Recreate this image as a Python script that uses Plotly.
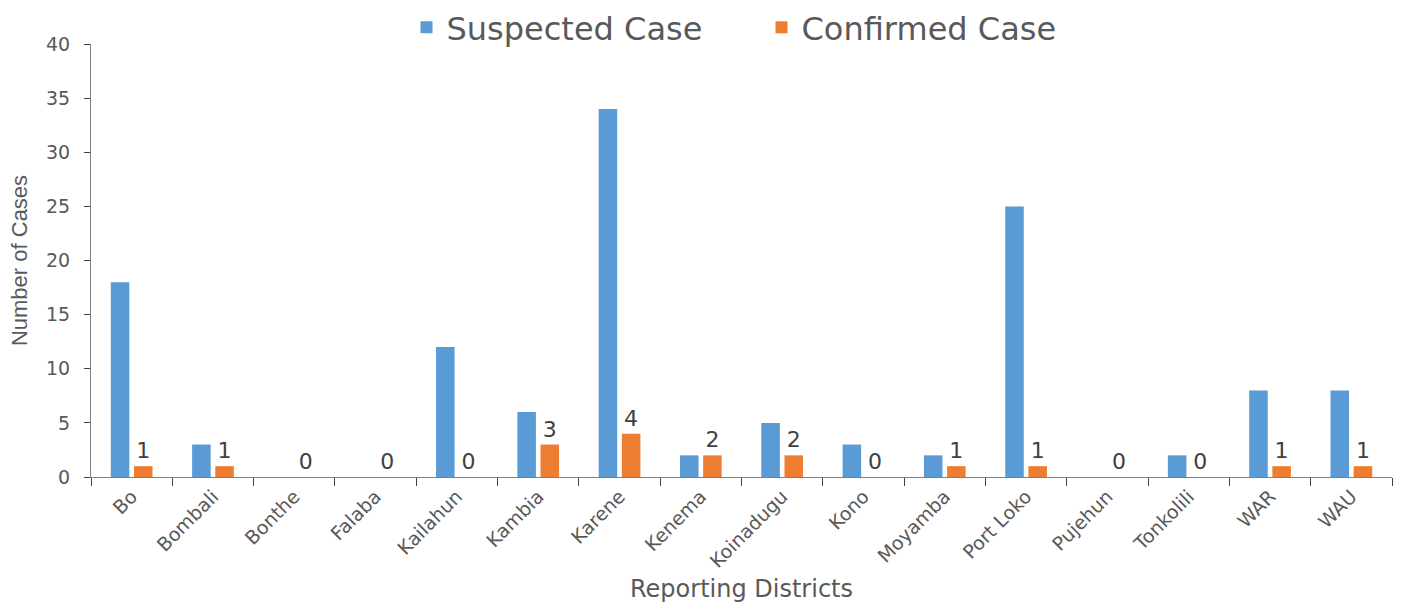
import plotly.graph_objects as go

districts = ["Bo", "Bombali", "Bonthe", "Falaba", "Kailahun", "Kambia", "Karene", "Kenema",
             "Koinadugu", "Kono", "Moyamba", "Port Loko", "Pujehun", "Tonkolili", "WAR", "WAU"]
suspected = [18, 3, 0, 0, 12, 6, 34, 2, 5, 3, 2, 25, 0, 2, 8, 8]
confirmed = [1, 1, 0, 0, 0, 3, 4, 2, 2, 0, 1, 1, 0, 0, 1, 1]
y_ticks = [0, 5, 10, 15, 20, 25, 30, 35, 40]

grey = "#595959"
font_main = "DejaVu Sans"

H = 603
B = 126
plot_top_px = 44
paper_h = H - B
L, R = 91, 11
plot_w = 1403 - L - R

fig = go.Figure()
fig.add_trace(go.Bar(name="Suspected Case", x=districts, y=suspected,
                     marker=dict(color="#5B9BD5", line=dict(width=0))))
fig.add_trace(go.Bar(name="Confirmed Case", x=districts, y=confirmed,
                     marker=dict(color="#ED7D31", line=dict(width=0)),
                     text=[str(v) for v in confirmed], textposition="outside",
                     cliponaxis=False,
                     textfont=dict(family=font_main, size=22, color="#404040")))

fig.update_layout(
    width=1403, height=H,
    margin=dict(l=L, r=R, t=0, b=B),
    paper_bgcolor="white", plot_bgcolor="white",
    barmode="group", bargap=0.43, bargroupgap=0.2,
    showlegend=True,
    legend=dict(orientation="h", x=0.5 + 20 / plot_w, xanchor="center",
                y=1.0, yanchor="top",
                font=dict(family=font_main, size=32, color=grey),
                entrywidth=310, traceorder="normal"),
    xaxis=dict(
        automargin=False,
        showline=True, linecolor="#808080", linewidth=1,
        ticks="outside", tickson="boundaries", ticklen=8, tickcolor="#404040",
        tickangle=-45, tickfont=dict(family=font_main, size=19, color=grey),
        title=dict(text="Reporting Districts", font=dict(family=font_main, size=24, color=grey),
                   standoff=12),
        showgrid=False,
    ),
    yaxis=dict(
        automargin=False,
        domain=[0, (paper_h - plot_top_px) / paper_h],
        range=[0, 40], tickvals=y_ticks, showline=True, linecolor="#808080", linewidth=1,
        ticks="outside", ticklen=6, tickcolor="#404040", ticklabelstandoff=10,
        tickfont=dict(family=font_main, size=19, color=grey),
        title=dict(text="Number of Cases",
                   font=dict(family="Liberation Sans Narrow, Liberation Sans", size=22, color=grey),
                   standoff=12),
        showgrid=False, zeroline=False,
    ),
)

fig.write_html("out.html", config={"displayModeBar": False},
               post_script="document.body.style.margin='0';")
